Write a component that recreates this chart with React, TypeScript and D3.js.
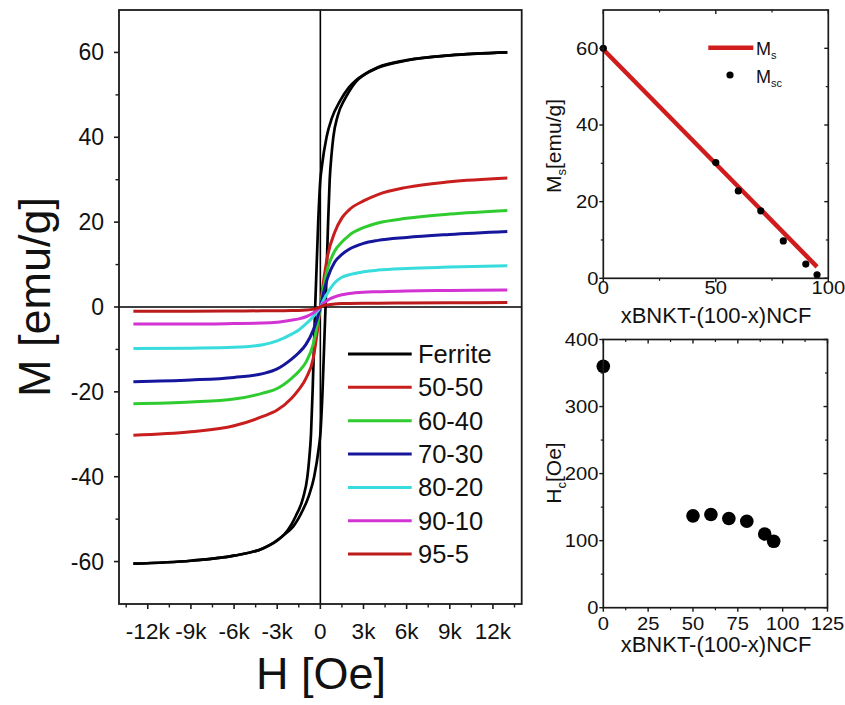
import React from 'react';
import * as d3 from 'd3';

const W = 845;
const H = 705;
const FONT = '"Liberation Sans", Arial, Helvetica, sans-serif';

// ---------- Main hysteresis panel data ----------
const hGrid = [-13000, -9000, -6000, -4000, -3000, -2000, -1500, -1000, -500, -200, 0, 200, 500, 1000, 1500, 2000, 3000, 4000, 6000, 9000, 13000];
const m5050 = [-30.2, -29.4, -28.0, -25.8, -24.3, -21.5, -19.5, -16.8, -12.2, -5.5, 0, 5.5, 12.0, 17.6, 21.0, 22.9, 25.0, 26.5, 28.2, 29.5, 30.4];
const m6040 = [-22.8, -22.4, -21.7, -20.3, -19.2, -16.8, -15.2, -13.0, -8.8, -4.0, 0, 4.2, 9.0, 13.2, 15.3, 16.9, 18.7, 19.8, 20.9, 21.9, 22.75];
const m7030 = [-17.6, -17.2, -16.6, -15.7, -14.6, -12.3, -10.8, -8.8, -5.5, -2.5, 0, 3.0, 6.8, 10.6, 12.4, 13.6, 15.0, 15.7, 16.4, 17.1, 17.8];
const m8020 = [-9.8, -9.7, -9.5, -8.9, -8.0, -6.4, -5.4, -4.0, -2.3, -1.0, 0, 1.5, 3.3, 5.7, 7.0, 7.6, 8.3, 8.7, 9.1, 9.4, 9.7];
const m9010 = [-4.0, -4.0, -3.9, -3.8, -3.6, -3.1, -2.8, -2.3, -1.4, -0.6, 0, 0.8, 1.6, 2.4, 2.9, 3.2, 3.5, 3.6, 3.8, 3.9, 4.0];
const m955 = [-1.0, -1.0, -0.95, -0.9, -0.9, -0.85, -0.8, -0.7, -0.5, -0.25, 0, 0.3, 0.5, 0.7, 0.8, 0.85, 0.9, 0.9, 0.95, 1.0, 1.05];

// Ferrite loop: descending and ascending branches (listed by increasing H)
const ferriteDescH = [-13000, -9000, -6000, -4000, -3000, -2500, -2000, -1700, -1200, -900, -780, -650, -540, -450, -360, -150, 0, 100, 430, 800, 1360, 2000, 2500, 3000, 4000, 6000, 9000, 13000];
const ferriteDescM = [-60.5, -59.8, -58.6, -56.9, -55.0, -53.6, -51.2, -49.2, -45, -40, -36, -30, -20, -10, 0, 20, 30, 33, 40, 44.5, 48.5, 51.8, 53.5, 54.7, 56.5, 58.2, 59.3, 60.0];
const ferriteAscH = [-13000, -9000, -6000, -4000, -3000, -2500, -2000, -1360, -800, -430, -100, 0, 150, 360, 450, 540, 650, 780, 900, 1200, 1700, 2000, 2500, 3000, 4000, 6000, 9000, 13000];
const ferriteAscM = [-60.5, -59.8, -58.6, -56.9, -55.0, -53.6, -52.2, -48.8, -44.5, -40, -33, -30, -20, 0, 10, 20, 30, 36, 40, 45, 49, 50.8, 53.2, 54.6, 56.4, 58.1, 59.3, 60.0];

const legendLabels = ['Ferrite', '50-50', '60-40', '70-30', '80-20', '90-10', '95-5'];
const seriesColors = ['#000000', '#c81e1e', '#2fcc2f', '#16169c', '#38dcdc', '#d233d2', '#bb1b1b'];

const mainXTicks = [-12000, -9000, -6000, -3000, 0, 3000, 6000, 9000, 12000];
const mainXTickLabels = ['-12k', '-9k', '-6k', '-3k', '0', '3k', '6k', '9k', '12k'];
const mainXMinor = [-13500, -10500, -7500, -4500, -1500, 1500, 4500, 7500, 10500, 13500];
const mainYTicks = [-60, -40, -20, 0, 20, 40, 60];
const mainYMinor = [-50, -30, -10, 10, 30, 50];

// ---------- Ms panel data ----------
const compX = [0, 50, 60, 70, 80, 90, 95];
const mscValues = [60, 30.2, 22.8, 17.6, 9.75, 3.7, 0.9];
const msLineX = [0, 95];
const msLineY = [59.7, 3.0];
const msXTicks = [0, 50, 100];
const msXMinor = [25, 75];
const msYTicks = [0, 20, 40, 60];
const msYMinor = [10, 30, 50];

// ---------- Hc panel data ----------
const hcValues = [360, 137, 139, 133, 129, 110, 99];
const hcXTicks = [0, 25, 50, 75, 100, 125];
const hcXMinor = [12.5, 37.5, 62.5, 87.5, 112.5];
const hcYTicks = [0, 100, 200, 300, 400];
const hcYMinor = [50, 150, 250, 350];

const AXIS = '#1a1a1a';

function SText({ x, y, sx = 1, anchor = 'middle', size, rotate = 0, children }: any) {
  return (
    <text
      transform={`translate(${x},${y}) rotate(${rotate}) scale(${sx},1)`}
      textAnchor={anchor}
      fontSize={size}
      fontFamily={FONT}
      fill="#111"
    >
      {children}
    </text>
  );
}

export default function App() {
  // main panel scales
  const mx = d3.scaleLinear().domain([-14000, 14000]).range([119, 521.7]);
  const my = d3.scaleLinear().domain([-70, 70]).range([604, 10]);

  const mainSeries = [m5050, m6040, m7030, m8020, m9010, m955];
  const line = d3
    .line<[number, number]>()
    .x((d) => mx(d[0]))
    .y((d) => my(d[1]))
    .curve(d3.curveMonotoneX);

  const ferriteDesc = ferriteDescH.map((h, i) => [h, ferriteDescM[i]] as [number, number]);
  const ferriteAsc = ferriteAscH.map((h, i) => [h, ferriteAscM[i]] as [number, number]);

  // Ms panel
  const sx = d3.scaleLinear().domain([0, 100]).range([603.3, 828.3]);
  const sy = d3.scaleLinear().domain([0, 70]).range([278.3, 10]);
  // Hc panel
  const hx = d3.scaleLinear().domain([0, 125]).range([603.3, 827.5]);
  const hy = d3.scaleLinear().domain([0, 400]).range([607.7, 339.5]);

  const RS = 1.12; // horizontal stretch for right panels
  const rFont = 18;

  const legendX0 = 348;
  const legendX1 = 411.7;
  const legendY0 = 354;
  const legendDy = 33.35;

  return (
    <svg
      width={W}
      height={H}
      viewBox={`0 0 ${W} ${H}`}
      style={{ position: 'absolute', left: 0, top: 0, background: '#fff' }}
    >
      <rect x={0} y={0} width={W} height={H} fill="#fff" />

      {/* ================= MAIN PANEL ================= */}
      <line x1={mx(0)} x2={mx(0)} y1={my(70)} y2={my(-70)} stroke="#000" strokeWidth={1.6} />
      <line x1={mx(-14000)} x2={mx(14000)} y1={my(0)} y2={my(0)} stroke="#000" strokeWidth={1.6} />

      <path d={line(ferriteDesc) || ''} fill="none" stroke={seriesColors[0]} strokeWidth={2.7} />
      <path d={line(ferriteAsc) || ''} fill="none" stroke={seriesColors[0]} strokeWidth={2.7} />
      {mainSeries.map((s, si) => (
        <path
          key={si}
          d={line(hGrid.map((h, i) => [h, s[i]] as [number, number])) || ''}
          fill="none"
          stroke={seriesColors[si + 1]}
          strokeWidth={3}
          strokeLinejoin="round"
        />
      ))}

      <rect x={mx(-14000)} y={my(70)} width={mx(14000) - mx(-14000)} height={my(-70) - my(70)} fill="none" stroke={AXIS} strokeWidth={1.8} />

      {mainYTicks.map((v) => (
        <g key={'my' + v}>
          <line x1={mx(-14000) - 5} x2={mx(-14000)} y1={my(v)} y2={my(v)} stroke={AXIS} strokeWidth={1.6} />
          <SText x={104} y={my(v) + 8} anchor="end" size={23}>{v}</SText>
        </g>
      ))}
      {mainYMinor.map((v) => (
        <line key={'mym' + v} x1={mx(-14000) - 3.5} x2={mx(-14000)} y1={my(v)} y2={my(v)} stroke={AXIS} strokeWidth={1.4} />
      ))}
      {mainXTicks.map((v, i) => (
        <g key={'mx' + v}>
          <line x1={mx(v)} x2={mx(v)} y1={my(-70)} y2={my(-70) + 5} stroke={AXIS} strokeWidth={1.6} />
          <SText x={mx(v)} y={638.5} size={22.5}>{mainXTickLabels[i]}</SText>
        </g>
      ))}
      {mainXMinor.map((v) => (
        <line key={'mxm' + v} x1={mx(v)} x2={mx(v)} y1={my(-70)} y2={my(-70) + 3.5} stroke={AXIS} strokeWidth={1.4} />
      ))}

      <SText x={50} y={297} rotate={-90} size={45}>M [emu/g]</SText>
      <SText x={321} y={689} size={45}>H [Oe]</SText>

      {legendLabels.map((lab, i) => (
        <g key={'lg' + i}>
          <line
            x1={legendX0}
            x2={legendX1}
            y1={legendY0 + i * legendDy}
            y2={legendY0 + i * legendDy}
            stroke={seriesColors[i]}
            strokeWidth={3}
          />
          <SText x={418} y={legendY0 + i * legendDy + 9} anchor="start" size={25.5}>{lab}</SText>
        </g>
      ))}

      {/* ================= Ms PANEL ================= */}
      <path
        d={d3.line<number>().x((d, i) => sx(msLineX[i])).y((d) => sy(d))(msLineY) || ''}
        fill="none"
        stroke="#d01c1c"
        strokeWidth={4.5}
      />
      {compX.map((c, i) => (
        <circle key={'ms' + i} cx={sx(c)} cy={sy(mscValues[i])} r={3.6} fill="#000" />
      ))}
      <rect x={sx(0)} y={sy(70)} width={sx(100) - sx(0)} height={sy(0) - sy(70)} fill="none" stroke={AXIS} strokeWidth={1.7} />
      {msYTicks.map((v) => (
        <g key={'sy' + v}>
          <line x1={sx(0) - 4} x2={sx(0)} y1={sy(v)} y2={sy(v)} stroke={AXIS} strokeWidth={1.4} />
          <line x1={sx(100) - 4} x2={sx(100)} y1={sy(v)} y2={sy(v)} stroke={AXIS} strokeWidth={1.4} />
          <SText x={598.5} y={sy(v) + 6.5} anchor="end" size={rFont} sx={RS}>{v}</SText>
        </g>
      ))}
      {msYMinor.map((v) => (
        <g key={'sym' + v}>
          <line x1={sx(0) - 2.5} x2={sx(0)} y1={sy(v)} y2={sy(v)} stroke={AXIS} strokeWidth={1.2} />
          <line x1={sx(100) - 2.5} x2={sx(100)} y1={sy(v)} y2={sy(v)} stroke={AXIS} strokeWidth={1.2} />
        </g>
      ))}
      {msXTicks.map((v) => (
        <g key={'sx' + v}>
          <line x1={sx(v)} x2={sx(v)} y1={sy(0)} y2={sy(0) + 4} stroke={AXIS} strokeWidth={1.4} />
          <line x1={sx(v)} x2={sx(v)} y1={sy(70)} y2={sy(70) + 4} stroke={AXIS} strokeWidth={1.4} />
          <SText x={sx(v)} y={293.5} size={rFont} sx={RS}>{v}</SText>
        </g>
      ))}
      {msXMinor.map((v) => (
        <g key={'sxm' + v}>
          <line x1={sx(v)} x2={sx(v)} y1={sy(0)} y2={sy(0) + 2.5} stroke={AXIS} strokeWidth={1.2} />
          <line x1={sx(v)} x2={sx(v)} y1={sy(70)} y2={sy(70) + 2.5} stroke={AXIS} strokeWidth={1.2} />
        </g>
      ))}
      <SText x={716} y={323} size={22}>xBNKT-(100-x)NCF</SText>
      <text transform="translate(561,146) rotate(-90)" textAnchor="middle" fontSize={21} fontFamily={FONT} fill="#111">
        M<tspan fontSize={13} dy={5}>s</tspan>
        <tspan dy={-5}>[emu/g]</tspan>
      </text>
      <line x1={708.3} x2={753.3} y1={47.7} y2={47.7} stroke="#d01c1c" strokeWidth={4.5} />
      <text x={756} y={55} fontSize={18} fontFamily={FONT} fill="#111">
        M<tspan fontSize={11} dy={4}>s</tspan>
      </text>
      <circle cx={730} cy={75} r={3.6} fill="#000" />
      <text x={756} y={83} fontSize={18} fontFamily={FONT} fill="#111">
        M<tspan fontSize={11} dy={4}>sc</tspan>
      </text>

      {/* ================= Hc PANEL ================= */}
      {compX.map((c, i) => (
        <circle key={'hc' + i} cx={hx(c)} cy={hy(hcValues[i])} r={6.8} fill="#000" />
      ))}
      <rect x={hx(0)} y={hy(400)} width={hx(125) - hx(0)} height={hy(0) - hy(400)} fill="none" stroke={AXIS} strokeWidth={1.7} />
      {hcYTicks.map((v) => (
        <g key={'hy' + v}>
          <line x1={hx(0) - 4} x2={hx(0)} y1={hy(v)} y2={hy(v)} stroke={AXIS} strokeWidth={1.4} />
          <line x1={hx(125) - 4} x2={hx(125)} y1={hy(v)} y2={hy(v)} stroke={AXIS} strokeWidth={1.4} />
          <SText x={598.5} y={hy(v) + 6.5} anchor="end" size={rFont} sx={RS}>{v}</SText>
        </g>
      ))}
      {hcYMinor.map((v) => (
        <g key={'hym' + v}>
          <line x1={hx(0) - 2.5} x2={hx(0)} y1={hy(v)} y2={hy(v)} stroke={AXIS} strokeWidth={1.2} />
          <line x1={hx(125) - 2.5} x2={hx(125)} y1={hy(v)} y2={hy(v)} stroke={AXIS} strokeWidth={1.2} />
        </g>
      ))}
      {hcXTicks.map((v) => (
        <g key={'hx' + v}>
          <line x1={hx(v)} x2={hx(v)} y1={hy(0)} y2={hy(0) + 4} stroke={AXIS} strokeWidth={1.4} />
          <line x1={hx(v)} x2={hx(v)} y1={hy(400)} y2={hy(400) + 4} stroke={AXIS} strokeWidth={1.4} />
          <SText x={hx(v)} y={630} size={rFont} sx={RS}>{v}</SText>
        </g>
      ))}
      {hcXMinor.map((v) => (
        <g key={'hxm' + v}>
          <line x1={hx(v)} x2={hx(v)} y1={hy(0)} y2={hy(0) + 2.5} stroke={AXIS} strokeWidth={1.2} />
          <line x1={hx(v)} x2={hx(v)} y1={hy(400)} y2={hy(400) + 2.5} stroke={AXIS} strokeWidth={1.2} />
        </g>
      ))}
      <SText x={716} y={652} size={22}>xBNKT-(100-x)NCF</SText>
      <text transform="translate(561,473) rotate(-90)" textAnchor="middle" fontSize={21} fontFamily={FONT} fill="#111">
        H<tspan fontSize={13} dy={5}>c</tspan>
        <tspan dy={-5}>[Oe]</tspan>
      </text>
    </svg>
  );
}
